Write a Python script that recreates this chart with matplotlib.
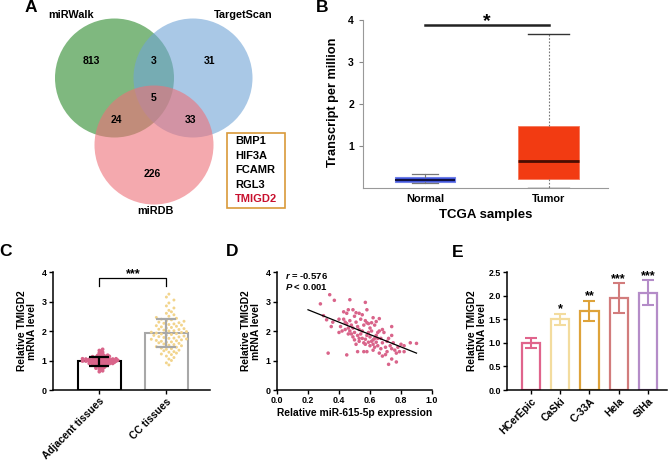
import numpy as np
import matplotlib
matplotlib.use('Agg')
import matplotlib.pyplot as plt
from matplotlib.patches import Circle, Rectangle

plt.rcParams['font.family'] = ['Liberation Sans', 'DejaVu Sans']
plt.rcParams['font.weight'] = 'bold'
plt.rcParams['axes.labelweight'] = 'bold'
plt.rcParams['mathtext.fontset'] = 'custom'
plt.rcParams['mathtext.rm'] = 'Liberation Sans:bold'
plt.rcParams['mathtext.it'] = 'Liberation Sans:italic:bold'
plt.rcParams['mathtext.bf'] = 'Liberation Sans:bold'

# ---------------- data ----------------
venn_names = ['miRWalk', 'TargetScan', 'miRDB']
venn_only = [813, 31, 226]          # miRWalk only, TargetScan only, miRDB only
venn_pairs = [3, 24, 33]            # W&T, W&D, T&D
venn_all = 5
candidate_genes = ['BMP1', 'HIF3A', 'FCAMR', 'RGL3', 'TMIGD2']

tcga_groups = ['Normal', 'Tumor']
tcga_normal = [0.12, 0.15, 0.20, 0.27, 0.33]   # whislo, q1, med, q3, whishi
tcga_tumor = [0.01, 0.21, 0.64, 1.47, 3.66]

tissue_groups = ['Adjacent tissues', 'CC tissues']
tissue_mean = [0.98, 1.92]
tissue_sd = [0.15, 0.47]
adjacent_vals = [0.62, 0.65, 0.68, 0.70, 0.72, 0.74, 0.75, 0.77, 0.78, 0.80, 0.80, 0.82, 0.83, 0.84,
                 0.85, 0.86, 0.86, 0.87, 0.88, 0.88, 0.89, 0.90, 0.90, 0.91, 0.91, 0.92, 0.92, 0.93,
                 0.93, 0.94, 0.94, 0.95, 0.95, 0.95, 0.96, 0.96, 0.97, 0.97, 0.97, 0.98, 0.98, 0.98,
                 0.99, 0.99, 0.99, 1.00, 1.00, 1.00, 1.00, 1.01, 1.01, 1.01, 1.02, 1.02, 1.02, 1.03,
                 1.03, 1.04, 1.04, 1.05, 1.05, 1.06, 1.06, 1.07, 1.07, 1.08, 1.08, 1.09, 1.10, 1.10,
                 1.11, 1.12, 1.13, 1.14, 1.15, 1.16, 1.17, 1.18, 1.20, 1.22, 1.24, 1.26, 1.28, 1.31,
                 1.34, 1.38]
cc_vals = [0.85, 0.92, 1.00, 1.05, 1.10, 1.15, 1.20, 1.22, 1.25, 1.28, 1.30, 1.33, 1.35, 1.38, 1.40,
           1.42, 1.45, 1.47, 1.50, 1.52, 1.54, 1.56, 1.58, 1.60, 1.62, 1.63, 1.65, 1.67, 1.68, 1.70,
           1.72, 1.73, 1.75, 1.76, 1.78, 1.80, 1.81, 1.83, 1.85, 1.86, 1.88, 1.90, 1.91, 1.93, 1.95,
           1.96, 1.98, 2.00, 2.01, 2.03, 2.05, 2.06, 2.08, 2.10, 2.12, 2.14, 2.16, 2.18, 2.20, 2.22,
           2.24, 2.26, 2.28, 2.30, 2.33, 2.35, 2.38, 2.40, 2.43, 2.46, 2.50, 2.55, 2.60, 2.65, 2.70,
           2.78, 2.85, 2.95, 3.05, 3.15, 3.25]

mir_x = [0.28, 0.34, 0.37, 0.30, 0.32, 0.35, 0.33, 0.40, 0.41, 0.40, 0.45, 0.47, 0.57, 0.58, 0.46,
         0.49, 0.51, 0.43, 0.44, 0.45, 0.47, 0.48, 0.46, 0.44, 0.47, 0.49, 0.50, 0.51, 0.52, 0.53,
         0.50, 0.52, 0.54, 0.55, 0.56, 0.57, 0.58, 0.55, 0.53, 0.51, 0.50, 0.52, 0.56, 0.57, 0.58,
         0.59, 0.60, 0.62, 0.64, 0.66, 0.60, 0.61, 0.62, 0.63, 0.64, 0.65, 0.66, 0.67, 0.68, 0.65,
         0.63, 0.60, 0.58, 0.62, 0.66, 0.68, 0.70, 0.72, 0.74, 0.77, 0.70, 0.71, 0.72, 0.73, 0.74,
         0.75, 0.74, 0.74, 0.76, 0.78, 0.80, 0.82, 0.82, 0.86, 0.90, 0.79, 0.77, 0.69, 0.68, 0.54,
         0.55, 0.53, 0.59, 0.61, 0.42, 0.48, 0.49, 0.46, 0.53, 0.57, 0.59, 0.64, 0.67, 0.71, 0.56,
         0.62, 0.45, 0.43, 0.36, 0.63, 0.61, 0.65]
tmigd2_y = [2.92, 3.23, 3.04, 2.52, 2.38, 2.15, 1.25, 2.40, 2.15, 1.95, 1.19, 3.06, 2.97, 2.72, 2.72,
            2.72, 2.62, 2.40, 2.30, 2.25, 2.35, 2.20, 2.10, 2.05, 2.00, 2.10, 2.50, 2.30, 2.15, 2.05,
            1.95, 1.85, 1.90, 2.00, 2.20, 2.35, 2.28, 1.75, 1.65, 1.55, 1.70, 1.30, 1.60, 1.72, 1.85,
            1.95, 2.10, 2.45, 2.32, 2.42, 1.80, 1.65, 1.55, 1.75, 1.85, 1.95, 2.00, 1.75, 1.60, 1.50,
            1.45, 1.50, 1.30, 1.35, 1.25, 1.15, 1.20, 0.87, 1.05, 0.95, 1.45, 1.65, 1.75, 1.50, 1.40,
            1.60, 1.85, 2.15, 1.35, 1.45, 1.55, 1.50, 1.30, 1.60, 1.58, 1.30, 1.25, 1.95, 2.05, 2.40,
            2.55, 2.60, 2.25, 2.00, 2.00, 1.90, 1.80, 1.90, 1.75, 1.55, 1.62, 1.62, 1.40, 1.30, 1.30,
            1.70, 2.60, 2.65, 2.30, 2.20, 2.28, 1.75]
fit_x = [0.20, 0.90]
fit_y = [2.72, 1.25]
corr_r = '-0.576'
corr_p = '0.001'

cell_lines = ['HCerEpic', 'CaSki', 'C-33A', 'Hela', 'SiHa']
cell_mean = [1.00, 1.50, 1.68, 1.95, 2.06]
cell_sd = [0.11, 0.12, 0.21, 0.31, 0.26]
cell_sig = ['', '*', '**', '***', '***']

# ---------------- figure ----------------
W, H = 669, 465
fig = plt.figure(figsize=(W / 100, H / 100), dpi=100)


def px_axes(x0, y0, x1, y1):
    return fig.add_axes([x0 / W, 1 - y1 / H, (x1 - x0) / W, (y1 - y0) / H])


def ftext(x, y, s, **kw):
    fig.text(x / W, 1 - y / H, s, **kw)


# ---------- Panel A: Venn ----------
axA = px_axes(0, 0, 300, 230)
axA.set_xlim(0, 300)
axA.set_ylim(230, 0)
axA.axis('off')
centers = [(114.5, 78), (193, 78), (154, 145)]
vcolors = ['#2a8a2a', '#71a4d6', '#ee7078']
for (cx, cy), c in zip(centers, vcolors):
    axA.add_patch(Circle((cx, cy), 59.5, facecolor=c, alpha=0.6, edgecolor='none'))
axA.text(71, 15, venn_names[0], ha='center', va='center', fontsize=7.8)
axA.text(243, 15, venn_names[1], ha='center', va='center', fontsize=7.8)
axA.text(155, 211, venn_names[2], ha='center', va='center', fontsize=7.8)
num_pos_only = [(91, 61), (210, 61), (152, 174)]
for (x, y), v in zip(num_pos_only, venn_only):
    axA.text(x, y, str(v), ha='center', va='center', fontsize=7.5)
num_pos_pair = [(154, 61), (116, 120), (191, 120)]
for (x, y), v in zip(num_pos_pair, venn_pairs):
    axA.text(x, y, str(v), ha='center', va='center', fontsize=7.5)
axA.text(154, 98, str(venn_all), ha='center', va='center', fontsize=7.5)
axA.add_patch(Rectangle((227, 133), 58, 75, facecolor='none', edgecolor='#d99a3a', lw=1.2))
for i, g in enumerate(candidate_genes):
    axA.text(235, 141 + i * 14.5, g, ha='left', va='center', fontsize=8,
             color='#c8102e' if g == 'TMIGD2' else 'black')

# panel letters
for lab, x, y in [('A', 31, 8), ('B', 322, 8), ('C', 6, 251), ('D', 232, 251), ('E', 458, 252)]:
    ftext(x, y, lab, ha='center', va='center', fontsize=12.5, fontweight='bold')

# ---------- Panel B: boxplot ----------
axB = px_axes(363, 20, 608, 188)
stats = []
for g, s in zip(tcga_groups, [tcga_normal, tcga_tumor]):
    stats.append(dict(label=g, whislo=s[0], q1=s[1], med=s[2], q3=s[3], whishi=s[4]))
bp = axB.bxp(stats, positions=[1, 2], widths=0.49, showfliers=False, patch_artist=True,
             capwidths=[0.21, 0.33])
bp['boxes'][0].set(facecolor='#4257dc', edgecolor='#6f7fe8', lw=0.8)
bp['boxes'][1].set(facecolor='#f23b12', edgecolor='#f5775a', lw=0.6)
bp['medians'][0].set(color='#101040', lw=1.5)
bp['medians'][1].set(color='#4a0d02', lw=2.0)
for w in bp['whiskers'][:2]:
    w.set(color='#777777', lw=0.8)
for w in bp['whiskers'][2:]:
    w.set(color='#777777', lw=0.8, linestyle=(0, (1.5, 1.5)))
for c in bp['caps'][:2]:
    c.set(color='#777777', lw=0.9)
for c in bp['caps'][2:]:
    c.set(color='#333333', lw=1.0)
axB.set_xlim(0.5, 2.48)
axB.set_ylim(0, 4)
axB.set_yticks([1, 2, 3, 4])
axB.tick_params(axis='y', labelsize=7.5, length=3, color='#888888', width=0.8)
axB.tick_params(axis='x', labelsize=7.9, length=0, pad=4)
for sp in ['top', 'right']:
    axB.spines[sp].set_visible(False)
for sp in ['left', 'bottom']:
    axB.spines[sp].set_color('#999999')
    axB.spines[sp].set_linewidth(0.8)
axB.plot([1, 2], [3.88, 3.88], color='#222222', lw=1.8, clip_on=False)
axB.text(1.5, 3.86, '*', ha='center', va='baseline', fontsize=14, clip_on=False)
ftext(333, 102, 'Transcript per million', rotation=90, ha='center', va='center', fontsize=9.2)
ftext(486, 215, 'TCGA samples', ha='center', va='center', fontsize=9.5)

# ---------- helper for styling C/D/E ----------
def style_axes(ax):
    for sp in ['top', 'right']:
        ax.spines[sp].set_visible(False)
    for sp in ['left', 'bottom']:
        ax.spines[sp].set_linewidth(1.1)
    ax.tick_params(labelsize=6.4, length=3, width=1.0, pad=1.5)


def swarm_offsets(vals, binw, dx, maxw, stagger):
    vals = np.asarray(vals)
    bins = np.round(vals / binw).astype(int)
    off = np.zeros(len(vals))
    for b in np.unique(bins):
        idx = np.where(bins == b)[0]
        n = len(idx)
        step = min(dx, maxw / max((n - 1) / 2.0, 1))
        shift = stagger * step if b % 2 else 0.0
        for k, i in enumerate(idx):
            m = (k + 1) // 2
            off[i] = m * step * (1 if k % 2 else -1) + shift
    return off


# ---------- Panel C ----------
axC = px_axes(53, 272, 210, 390)
style_axes(axC)
bar_edges = ['black', '#a8a8a8']
pt_colors = ['#d9648a', '#f2d48c']
pt_sizes = [7, 4.5]
for i, (vals, m, sd) in enumerate(zip([adjacent_vals, cc_vals], tissue_mean, tissue_sd)):
    axC.bar(i, m, width=0.64, facecolor='white', edgecolor=bar_edges[i], lw=1.5, zorder=1)
    if i == 0:
        off = swarm_offsets(vals, 0.04, 0.05, 0.31, 0.5)
    else:
        off = swarm_offsets(vals, 0.12, 0.075, 0.33, 0.5)
    axC.scatter(i + off, vals, s=pt_sizes[i], color=pt_colors[i], edgecolors='none', zorder=2)
    axC.errorbar(i, m, yerr=sd, color=bar_edges[i], lw=1.6, capsize=7, capthick=1.6, zorder=3)
axC.set_xlim(-0.69, 1.65)
axC.set_ylim(0, 4)
axC.set_yticks([0, 1, 2, 3, 4])
axC.set_xticks([0, 1])
axC.set_xticklabels(tissue_groups, rotation=45, ha='right', rotation_mode='anchor', fontsize=7.4)
axC.plot([0, 0, 1, 1], [3.53, 3.8, 3.8, 3.53], color='black', lw=0.9, clip_on=False)
axC.text(0.5, 3.82, '***', ha='center', va='baseline', fontsize=9, clip_on=False)
ftext(27, 331, 'Relative TMIGD2\nmRNA level', rotation=90, ha='center', va='center',
      fontsize=7.4, multialignment='center', linespacing=1.1)

# ---------- Panel D ----------
axD = px_axes(277, 272, 432, 390)
style_axes(axD)
axD.scatter(mir_x, tmigd2_y, s=6.5, color='#d9648a', edgecolors='none', zorder=2)
axD.plot(fit_x, fit_y, color='black', lw=0.9, zorder=3)
axD.set_xlim(0, 1)
axD.set_ylim(0, 4)
axD.set_xticks([0.0, 0.2, 0.4, 0.6, 0.8, 1.0])
axD.set_xticklabels(['0.0', '0.2', '0.4', '0.6', '0.8', '1.0'])
axD.set_yticks([0, 1, 2, 3, 4])
axD.text(0.05, 3.88, '$r$ = ' + corr_r, ha='left', va='center', fontsize=6.8)
axD.text(0.05, 3.48, '$P$ < ' + corr_p, ha='left', va='center', fontsize=6.8)
axD.set_xlabel('Relative miR-615-5p expression', fontsize=7.4, labelpad=2)
ftext(251, 331, 'Relative TMIGD2\nmRNA level', rotation=90, ha='center', va='center',
      fontsize=7.4, multialignment='center', linespacing=1.1)

# ---------- Panel E ----------
axE = px_axes(507, 272, 667, 390)
style_axes(axE)
cell_colors = ['#e0648c', '#f3dc9e', '#dea33a', '#d27c7c', '#b48cc8']
xs = np.arange(len(cell_lines))
for i in xs:
    axE.bar(i, cell_mean[i], width=0.62, facecolor='white', edgecolor=cell_colors[i], lw=1.6)
    axE.errorbar(i, cell_mean[i], yerr=cell_sd[i], color=cell_colors[i], lw=1.5, capsize=4.5,
                 capthick=1.5)
    if cell_sig[i]:
        axE.text(i, cell_mean[i] + cell_sd[i] + 0.03, cell_sig[i], ha='center', va='baseline',
                 fontsize=9, clip_on=False)
axE.set_xlim(-0.82, 4.65)
axE.set_ylim(0, 2.5)
axE.set_yticks([0.0, 0.5, 1.0, 1.5, 2.0, 2.5])
axE.set_yticklabels(['0.0', '0.5', '1.0', '1.5', '2.0', '2.5'])
axE.set_xticks(xs)
axE.set_xticklabels(cell_lines, rotation=45, ha='right', rotation_mode='anchor', fontsize=7.4)
ftext(477, 331, 'Relative TMIGD2\nmRNA level', rotation=90, ha='center', va='center',
      fontsize=7.4, multialignment='center', linespacing=1.1)

fig.savefig('out.png', dpi=100)
